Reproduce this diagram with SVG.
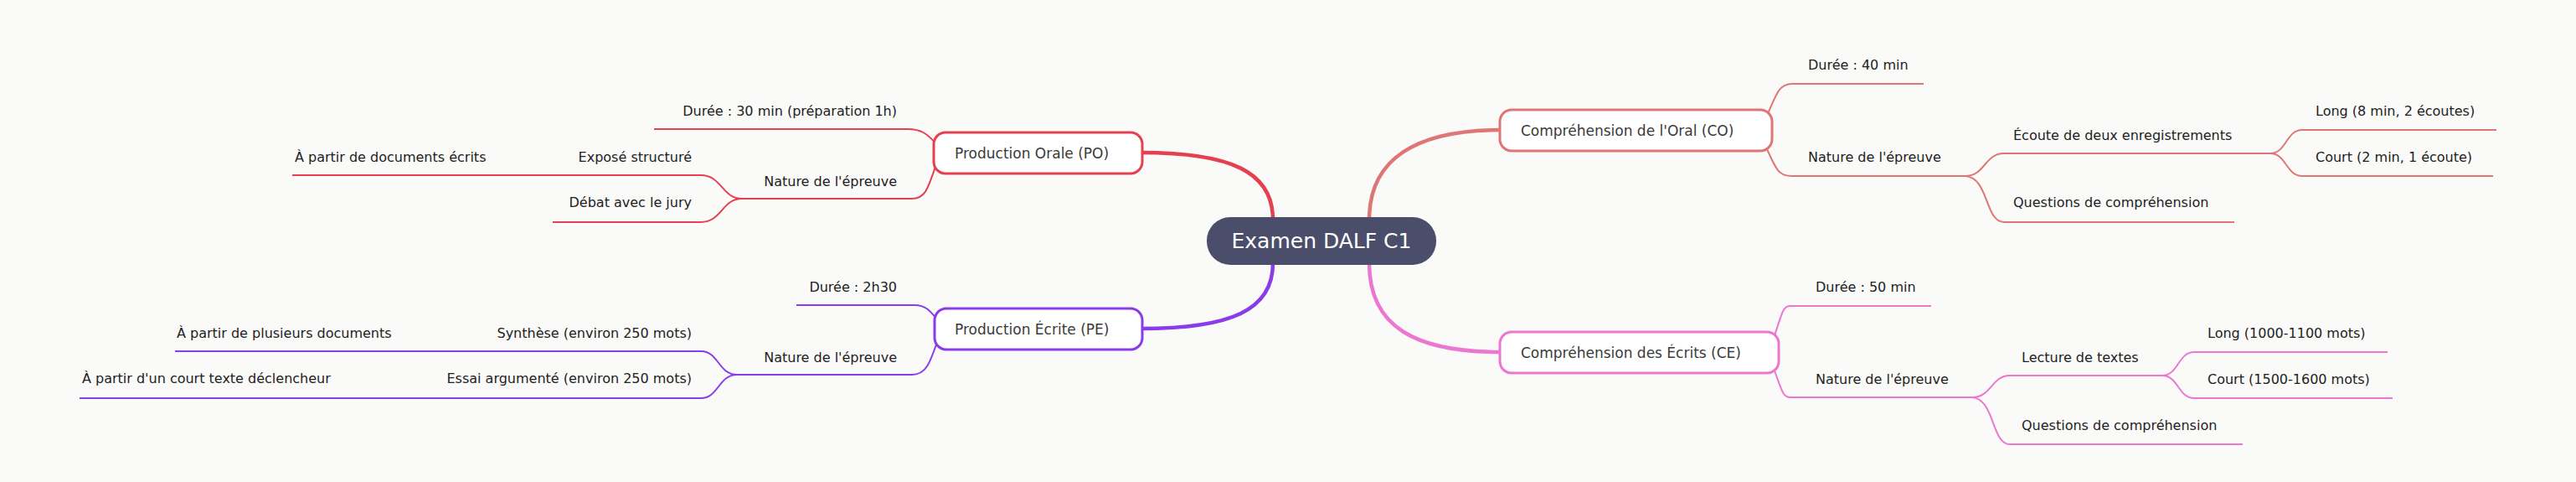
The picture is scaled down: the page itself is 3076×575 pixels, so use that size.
<svg xmlns="http://www.w3.org/2000/svg" width="3076" height="575" viewBox="0 0 3076 575">
<style>
text{font-family:"DejaVu Sans",sans-serif;font-size:16px;fill:#222}
.n text{font-size:17px;fill:#3a3a3a}
.r{text-anchor:end}
.l{fill:none;stroke-width:2}
.m{fill:none;stroke-width:4.5}
.po{stroke:#e5404f}.pe{stroke:#8a3bea}.co{stroke:#df7676}.ce{stroke:#eb77d0}
.box{fill:#fff;stroke-width:3}
</style>
<rect width="3076" height="575" fill="#fafaf9"/>
<g id="connectors">
<path class="m co" d="M1635,262 C1635,190 1690,155 1792,155"/>
<path class="m ce" d="M1635,314 C1635,390 1690,420 1792,420"/>
<path class="m po" d="M1520,262 C1520,205 1470,182 1362,182"/>
<path class="m pe" d="M1520,314 C1520,370 1470,392 1362,392"/>
<path class="l co" d="M2110,138 C2122,110 2125,100 2140,100 H2297"/>
<path class="l co" d="M2110,178 C2122,205 2125,210 2140,210 H2347"/>
<path class="l co" d="M2347,210 C2370,210 2370,183 2393,183 H2711"/>
<path class="l co" d="M2347,210 C2375,212 2370,265 2393,265 H2668"/>
<path class="l co" d="M2711,183 C2730,183 2730,155 2749,155 H2981"/>
<path class="l co" d="M2711,183 C2730,183 2730,210 2749,210 H2977"/>
<path class="l ce" d="M2118,403 C2128,375 2128,365 2138,365 H2306"/>
<path class="l ce" d="M2118,440 C2128,465 2128,474 2138,474 H2355"/>
<path class="l ce" d="M2355,474 C2378,474 2378,448 2400,448 H2582"/>
<path class="l ce" d="M2355,474 C2382,476 2378,530 2400,530 H2678"/>
<path class="l ce" d="M2582,448 C2601,448 2601,420 2620,420 H2851"/>
<path class="l ce" d="M2582,448 C2601,448 2601,475 2620,475 H2857"/>
<path class="l po" d="M1118,172 C1108,160 1100,154 1084,154 H781"/>
<path class="l po" d="M1118,196 C1108,225 1105,237 1089,237 H886"/>
<path class="l po" d="M886,237 C862,237 862,209 837,209 H349"/>
<path class="l po" d="M886,237 C862,237 862,265 837,265 H660"/>
<path class="l pe" d="M1120,382 C1110,370 1105,364 1092,364 H951"/>
<path class="l pe" d="M1120,405 C1110,435 1105,447 1089,447 H880"/>
<path class="l pe" d="M880,447 C858,447 858,419 837,419 H209"/>
<path class="l pe" d="M880,447 C858,447 858,475 837,475 H95"/>
</g>
<g id="root"><rect x="1441" y="259" width="274" height="57" rx="28" fill="#4b4e6a"/><text x="1578" y="296" text-anchor="middle" style="font-size:25px;fill:#fff">Examen DALF C1</text></g>
<g id="co" class="n"><rect class="box co" x="1791" y="131" width="325" height="49" rx="14"/><text x="1816" y="162">Compréhension de l'Oral (CO)</text></g>
<g id="ce" class="n"><rect class="box ce" x="1791" y="396" width="333" height="49" rx="14"/><text x="1816" y="427">Compréhension des Écrits (CE)</text></g>
<g id="po" class="n"><rect class="box po" x="1115" y="158" width="249" height="49" rx="14"/><text x="1140" y="189">Production Orale (PO)</text></g>
<g id="pe" class="n"><rect class="box pe" x="1116" y="368" width="248" height="49" rx="14"/><text x="1140" y="399">Production Écrite (PE)</text></g>
<g id="co-kids"><text x="2159" y="83">Durée : 40 min</text><text x="2159" y="193">Nature de l'épreuve</text><text x="2404" y="167">Écoute de deux enregistrements</text><text x="2404" y="247">Questions de compréhension</text><text x="2765" y="138">Long (8 min, 2 écoutes)</text><text x="2765" y="193">Court (2 min, 1 écoute)</text></g>
<g id="ce-kids"><text x="2168" y="348">Durée : 50 min</text><text x="2168" y="458">Nature de l'épreuve</text><text x="2414" y="432">Lecture de textes</text><text x="2414" y="513">Questions de compréhension</text><text x="2636" y="403">Long (1000-1100 mots)</text><text x="2636" y="458">Court (1500-1600 mots)</text></g>
<g id="po-kids"><text class="r" x="1071" y="138">Durée : 30 min (préparation 1h)</text><text class="r" x="1071" y="222">Nature de l'épreuve</text><text class="r" x="826" y="193">Exposé structuré</text><text x="352" y="193">À partir de documents écrits</text><text class="r" x="826" y="247">Débat avec le jury</text></g>
<g id="pe-kids"><text class="r" x="1071" y="348">Durée : 2h30</text><text class="r" x="1071" y="432">Nature de l'épreuve</text><text class="r" x="826" y="403">Synthèse (environ 250 mots)</text><text x="211" y="403">À partir de plusieurs documents</text><text class="r" x="826" y="457">Essai argumenté (environ 250 mots)</text><text x="98" y="457">À partir d'un court texte déclencheur</text></g>
</svg>
